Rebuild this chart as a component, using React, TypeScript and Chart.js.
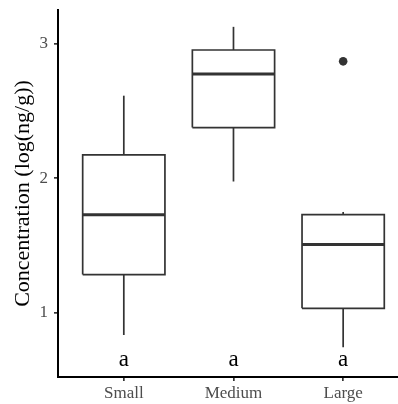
import React, { useEffect, useRef } from "react";
import { Chart, registerables } from "chart.js";

Chart.register(...registerables);

// Box-plot summary for each size class (log concentration)
const categories = ["Small", "Medium", "Large"];
const whiskerLow = [0.837, 1.976, 0.746];
const q1 = [1.285, 2.376, 1.035];
const median = [1.73, 2.774, 1.509];
const q3 = [2.174, 2.952, 1.73];
const whiskerHigh = [2.613, 3.124, 1.75];
const outlierCategory = ["Large"];
const outlierValues = [2.868];
const groupLetters = ["a", "a", "a"];
const yTickValues = [1, 2, 3];

const SERIF = "'Liberation Serif', 'Times New Roman', serif";
const LINE = "#333333";
const BOX_HALF = 0.375;

function buildDatasets() {
  const ds: any[] = [];
  const seg = (pts: { x: number; y: number }[], width: number) => ({
    type: "line",
    data: pts,
    borderColor: LINE,
    borderWidth: width,
    pointRadius: 0,
    pointHoverRadius: 0,
    fill: false,
    tension: 0,
    borderJoinStyle: "miter",
    clip: false,
  });
  categories.forEach((_, i) => {
    const c = i + 1;
    // upper and lower whiskers
    ds.push(seg([{ x: c, y: q3[i] }, { x: c, y: whiskerHigh[i] }], 1.7));
    ds.push(seg([{ x: c, y: q1[i] }, { x: c, y: whiskerLow[i] }], 1.7));
    // box outline
    ds.push(
      seg(
        [
          { x: c - BOX_HALF, y: q1[i] },
          { x: c + BOX_HALF, y: q1[i] },
          { x: c + BOX_HALF, y: q3[i] },
          { x: c - BOX_HALF, y: q3[i] },
          { x: c - BOX_HALF, y: q1[i] },
        ],
        1.7
      )
    );
    // median bar
    ds.push(seg([{ x: c - BOX_HALF, y: median[i] }, { x: c + BOX_HALF, y: median[i] }], 3));
  });
  ds.push({
    type: "scatter",
    data: outlierCategory.map((cat, k) => ({ x: categories.indexOf(cat) + 1, y: outlierValues[k] })),
    backgroundColor: LINE,
    borderColor: LINE,
    borderWidth: 0,
    pointRadius: 4.3,
    clip: false,
  });
  return ds;
}

// Significance letters under each box
const LETTER_Y = 0.607;
const lettersPlugin = {
  id: "groupLetters",
  afterDatasetsDraw(chart: any) {
    const { ctx, scales } = chart;
    ctx.save();
    ctx.fillStyle = "#000000";
    ctx.font = `23px ${SERIF}`;
    ctx.textAlign = "center";
    ctx.textBaseline = "alphabetic";
    groupLetters.forEach((t, i) => {
      ctx.fillText(t, scales.x.getPixelForValue(i + 1), scales.y.getPixelForValue(LETTER_Y));
    });
    ctx.restore();
  },
};

export default function App() {
  const ref = useRef<HTMLCanvasElement | null>(null);

  useEffect(() => {
    document.body.style.margin = "0";
    const canvas = ref.current;
    if (!canvas) return;
    const chart = new Chart(canvas, {
      type: "line",
      data: { datasets: buildDatasets() },
      options: {
        responsive: false,
        animation: false,
        events: [],
        layout: { padding: 0, autoPadding: false },
        plugins: { legend: { display: false }, tooltip: { enabled: false } },
        scales: {
          x: {
            type: "linear",
            min: 0.4,
            max: 3.5,
            afterBuildTicks: (s: any) => {
              s.ticks = categories.map((_, i) => ({ value: i + 1 }));
            },
            afterFit: (s: any) => {
              s.height = 27;
              s.paddingLeft = 0;
              s.paddingRight = 0;
            },
            border: { display: true, color: "#000000", width: 2 },
            grid: { drawOnChartArea: false, drawTicks: true, tickLength: 4, color: LINE, lineWidth: 1.7 },
            ticks: {
              autoSkip: false,
              maxRotation: 0,
              padding: 2,
              color: "#4d4d4d",
              font: { family: SERIF, size: 17 },
              callback: (v: any) => categories[Math.round(Number(v)) - 1] ?? "",
            },
          },
          y: {
            type: "linear",
            min: 0.525,
            max: 3.249,
            afterBuildTicks: (s: any) => {
              s.ticks = yTickValues.map((v) => ({ value: v }));
            },
            afterFit: (s: any) => {
              s.width = 58;
              s.paddingTop = 10;
              s.paddingBottom = 0;
            },
            border: { display: true, color: "#000000", width: 2 },
            grid: { drawOnChartArea: false, drawTicks: true, tickLength: 4, color: LINE, lineWidth: 1.7 },
            ticks: {
              padding: 6,
              color: "#4d4d4d",
              font: { family: SERIF, size: 17 },
              callback: (v: any) => String(v),
            },
            title: {
              display: true,
              text: "Concentration (log(ng/g))",
              color: "#000000",
              font: { family: SERIF, size: 22 },
              padding: { top: 10, bottom: 0 },
            },
          },
        },
      } as any,
      plugins: [lettersPlugin],
    });
    return () => chart.destroy();
  }, []);

  return <canvas ref={ref} width={398} height={404} style={{ display: "block" }} />;
}
